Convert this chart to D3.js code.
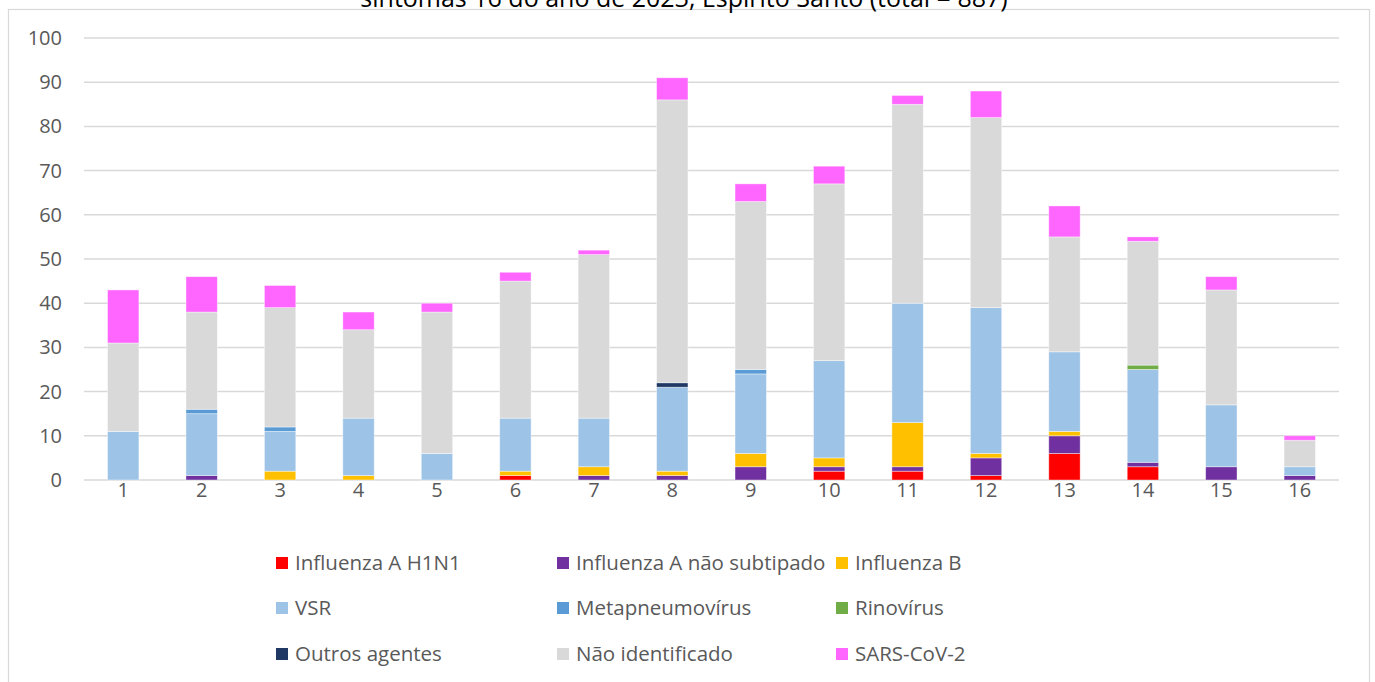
<!DOCTYPE html>
<meta charset="utf-8">
<script src="https://d3js.org/d3.v7.min.js"></script>
<style>
  body { margin: 0; background: #fff; }
  svg text { font-family: "Open Sans", "Liberation Sans", sans-serif; }
</style>
<div id="my_dataviz"></div>
<script>

  // weeks (semana epidemiológica)
  var weeks = ["1", "2", "3", "4", "5", "6", "7", "8", "9", "10", "11", "12", "13", "14", "15", "16"];

  // one array per agent, bottom to top
  var h1n1      = [0, 0, 0, 0, 0, 1, 0, 0, 0, 2, 2, 1, 6, 3, 0, 0];
  var fluANs    = [0, 1, 0, 0, 0, 0, 1, 1, 3, 1, 1, 4, 4, 1, 3, 1];
  var fluB      = [0, 0, 2, 1, 0, 1, 2, 1, 3, 2, 10, 1, 1, 0, 0, 0];
  var vsr       = [11, 14, 9, 13, 6, 12, 11, 19, 18, 22, 27, 33, 18, 21, 14, 2];
  var metapneu  = [0, 1, 1, 0, 0, 0, 0, 0, 1, 0, 0, 0, 0, 0, 0, 0];
  var rino      = [0, 0, 0, 0, 0, 0, 0, 0, 0, 0, 0, 0, 0, 1, 0, 0];
  var outros    = [0, 0, 0, 0, 0, 0, 0, 1, 0, 0, 0, 0, 0, 0, 0, 0];
  var naoIdent  = [20, 22, 27, 20, 32, 31, 37, 64, 38, 40, 45, 43, 26, 28, 26, 6];
  var sarsCov2  = [12, 8, 5, 4, 2, 2, 1, 5, 4, 4, 2, 6, 7, 1, 3, 1];

  var seriesNames = ["Influenza A H1N1", "Influenza A não subtipado", "Influenza B", "VSR",
    "Metapneumovírus", "Rinovírus", "Outros agentes", "Não identificado", "SARS-CoV-2"];
  var seriesValues = [h1n1, fluANs, fluB, vsr, metapneu, rino, outros, naoIdent, sarsCov2];
  var colors = ["#ff0000", "#7030a0", "#ffc000", "#9dc3e6", "#5b9bd5", "#70ad47", "#203864", "#d9d9d9", "#ff66ff"];
  var yTicks = [0, 10, 20, 30, 40, 50, 60, 70, 80, 90, 100];

  var total = d3.sum(seriesValues, function (s) { return d3.sum(s); });

  var W = 1375, H = 682;
  var svg = d3.select("#my_dataviz").append("svg")
    .attr("width", W).attr("height", H);

  // chart frame
  svg.append("rect")
    .attr("x", 8.5).attr("y", 9.5)
    .attr("width", 1361).attr("height", 700)
    .attr("fill", "none").attr("stroke", "#d9d9d9").attr("stroke-width", 1.2);

  // title (cut off at top like the original)
  svg.append("text")
    .attr("x", 684).attr("y", 7)
    .attr("text-anchor", "middle")
    .attr("font-size", 25)
    .attr("fill", "#000")
    .text("sintomas 16 do ano de 2023, Espírito Santo (total = " + total + ")");

  var x = d3.scaleBand().domain(weeks).range([84, 1339]).paddingInner(0.6).paddingOuter(0.3);
  var y = d3.scaleLinear().domain([0, 100]).range([480, 38]);

  // gridlines
  svg.append("g").selectAll("line")
    .data(yTicks).enter().append("line")
    .attr("x1", 84).attr("x2", 1339)
    .attr("y1", function (d) { return y(d); })
    .attr("y2", function (d) { return y(d); })
    .attr("stroke", "#d9d9d9").attr("stroke-width", 1.5);

  // y tick labels
  svg.append("g").selectAll("text")
    .data(yTicks).enter().append("text")
    .attr("x", 62)
    .attr("y", function (d) { return y(d) + 7; })
    .attr("text-anchor", "end")
    .attr("font-size", 20)
    .attr("fill", "#595959")
    .text(function (d) { return d; });

  // x tick labels
  svg.append("g").selectAll("text")
    .data(weeks).enter().append("text")
    .attr("x", function (d) { return x(d) + x.bandwidth() / 2; })
    .attr("y", 497)
    .attr("text-anchor", "middle")
    .attr("font-size", 20)
    .attr("fill", "#595959")
    .text(function (d) { return d; });

  // stacked data
  var table = weeks.map(function (w, i) {
    var row = { week: w };
    seriesNames.forEach(function (n, k) { row[n] = seriesValues[k][i]; });
    return row;
  });
  var stacked = d3.stack().keys(seriesNames)(table);

  svg.append("g").selectAll("g")
    .data(stacked).enter().append("g")
    .attr("fill", function (d, k) { return colors[k]; })
    .selectAll("rect")
    .data(function (d) { return d.filter(function (p) { return p[1] > p[0]; }); })
    .enter().append("rect")
    .attr("x", function (d) { return x(d.data.week); })
    .attr("y", function (d) { return y(d[1]); })
    .attr("width", x.bandwidth())
    .attr("height", function (d) { return y(d[0]) - y(d[1]); })
    .attr("stroke", "#fff").attr("stroke-opacity", 0.5).attr("stroke-width", 0.8);

  // legend: 3 columns x 3 rows
  var legX = [276, 557, 836], legY = [563, 608, 654];
  var leg = svg.append("g").selectAll("g")
    .data(seriesNames).enter().append("g")
    .attr("transform", function (d, k) {
      return "translate(" + legX[k % 3] + "," + legY[Math.floor(k / 3)] + ")";
    });
  leg.append("rect")
    .attr("x", 0).attr("y", -6).attr("width", 12).attr("height", 12)
    .attr("fill", function (d, k) { return colors[k]; });
  leg.append("text")
    .attr("x", 19).attr("y", 7)
    .attr("font-size", 20.5)
    .attr("fill", "#595959")
    .text(function (d) { return d; });

</script>
